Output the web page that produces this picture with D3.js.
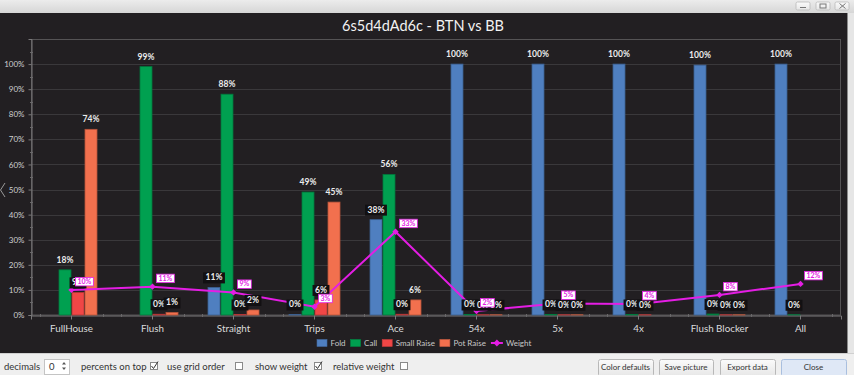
<!DOCTYPE html>
<html><head><meta charset="utf-8">
<script src="https://cdn.jsdelivr.net/npm/d3@7"></script>
<style>
html,body{margin:0;padding:0;background:#f0f0f0;overflow:hidden}
svg{display:block}
</style></head><body>
<svg id="c" width="854" height="375"></svg>
<script>
const title = "6s5d4dAd6c - BTN vs BB";
const categories = ["FullHouse","Flush","Straight","Trips","Ace","54x","5x","4x","Flush Blocker","All"];
const seriesNames = ["Fold","Call","Small Raise","Pot Raise"];
const fold       = [0, 0, 11, 0.2, 38, 100, 100, 100, 99.6, 100];
const call       = [18, 99, 88, 49, 56, 0.2, 0.2, 0.2, 0.4, 0.1];
const smallRaise = [9, 0.3, 0.2, 6, 0.3, 0.1, 0.1, 0.1, 0.1, 0];
const potRaise   = [74, 1, 2, 45, 6, 0.1, 0.1, 0, 0.1, 0];
const weight     = [10, 11.3, 9, 3.3, 33.2, 1.6, 4.6, 4.4, 8, 12.4];
const yTicks = [0,10,20,30,40,50,60,70,80,90,100];
const seriesColors = ["#4f7fc0","#00a050","#f04646","#f2704e"];
const weightColor = "#e41de4";
const controlsLeft = [["decimals",4],["percents on top",81],["use grid order",167],["show weight",255],["relative weight",333]];
const checkboxes = [[150,true],[235,false],[314,true],[400,false]];
const buttons = [["Color defaults",598,55],["Save picture",659,54],["Export data",720,55],["Close",781,65]];

const series = [fold, call, smallRaise, potRaise];
const svg = d3.select("#c");
const FONT = "Lato, 'Open Sans', sans-serif";

// window chrome
const defs = svg.append("defs");
const g1 = defs.append("linearGradient").attr("id","topg").attr("x1",0).attr("x2",0).attr("y1",0).attr("y2",1);
g1.append("stop").attr("offset","0").attr("stop-color","#ececec");
g1.append("stop").attr("offset","1").attr("stop-color","#d6d6d6");
const g2 = defs.append("linearGradient").attr("id","btng").attr("x1",0).attr("x2",0).attr("y1",0).attr("y2",1);
g2.append("stop").attr("offset","0").attr("stop-color","#fbfbfb");
g2.append("stop").attr("offset","1").attr("stop-color","#e6e6e6");

svg.append("rect").attr("x",0).attr("y",0).attr("width",854).attr("height",13).attr("fill","url(#topg)");
[796,816,835].forEach(bx=>{
  svg.append("rect").attr("x",bx).attr("y",2).attr("width",14).attr("height",8).attr("rx",1.5)
    .attr("fill","url(#btng)").attr("stroke","#b9b9b9").attr("stroke-width",0.8);
});
svg.append("line").attr("x1",800).attr("x2",806).attr("y1",7.5).attr("y2",7.5).attr("stroke","#777");
svg.append("rect").attr("x",820).attr("y",4).attr("width",6).attr("height",4).attr("fill","none").attr("stroke","#777");
svg.append("path").attr("d","M839.5,3.5L845.5,8.5M845.5,3.5L839.5,8.5").attr("stroke","#777");

svg.append("rect").attr("x",0).attr("y",13).attr("width",848).attr("height",340).attr("fill","#221f22");
svg.append("rect").attr("x",848).attr("y",13).attr("width",6).attr("height",340).attr("fill","#e6e6e6");
svg.append("line").attr("x1",847.5).attr("x2",847.5).attr("y1",13).attr("y2",353).attr("stroke","#8a8a8a");
svg.append("path").attr("d","M5,183L0.5,190L5,197").attr("fill","none").attr("stroke","#9a9a9a").attr("stroke-width",1);

// title
svg.append("text").attr("x",423).attr("y",31).attr("text-anchor","middle")
  .attr("font-family",FONT).attr("font-size",14.5).attr("fill","#f2f2f2").text(title);

// scales
const pLeft = 31, pRight = 841, pTop = 39, pBottom = 315;
const x = d3.scaleBand().domain(categories).range([pLeft,pRight]).padding(0);
const y = d3.scaleLinear().domain([0,110]).range([pBottom,pTop]);
const xs = d3.scaleBand().domain(seriesNames).range([-26,26]).padding(0);

// grid
const grid = svg.append("g");
grid.selectAll("line").data(yTicks.filter(d=>d>0)).join("line")
  .attr("x1",pLeft).attr("x2",pRight).attr("y1",d=>Math.round(y(d))+0.5).attr("y2",d=>Math.round(y(d))+0.5)
  .attr("stroke","#3a383b").attr("stroke-width",1);
svg.append("rect").attr("x",pLeft+0.5).attr("y",39.5).attr("width",pRight-pLeft-1).attr("height",pBottom-39.5)
  .attr("fill","none").attr("stroke","#555355");

// y axis
const yAxis = d3.axisLeft(y).tickValues(yTicks).tickFormat(d=>d+"%").tickSize(3).tickPadding(4);
const ya = svg.append("g").attr("transform",`translate(${pLeft+0.5},0)`).call(yAxis);
ya.select(".domain").attr("stroke","#7a787a");
ya.selectAll(".tick line").attr("stroke","#7a787a");
ya.selectAll("text").attr("fill","#cfcfcf").attr("font-family",FONT).attr("font-size",8).attr("x",-7);
const yMinor = d3.range(5,110,10);
svg.append("g").selectAll("line").data(yMinor).join("line")
  .attr("x1",pLeft-1).attr("x2",pLeft+2).attr("y1",d=>Math.round(y(d))+0.5).attr("y2",d=>Math.round(y(d))+0.5)
  .attr("stroke","#6a686a");

// x axis
const xAxis = d3.axisBottom(x).tickSize(4).tickPadding(4);
const xa = svg.append("g").attr("transform",`translate(0,${pBottom+0.5})`).call(xAxis);
xa.select(".domain").attr("stroke","#7a787a");
xa.selectAll(".tick line").attr("stroke","#7a787a");
xa.selectAll("text").attr("fill","#dcdcdc").attr("font-family",FONT).attr("font-size",9.8).attr("dy","0.9em");
const xMinor = [];
categories.forEach(c=>{ xMinor.push(x(c)+9, x(c)+x.bandwidth()-9); });
svg.append("g").selectAll("line").data(xMinor).join("line")
  .attr("x1",d=>Math.round(d)+0.5).attr("x2",d=>Math.round(d)+0.5).attr("y1",pBottom-1).attr("y2",pBottom+2)
  .attr("stroke","#6a686a");

// bars
const barData = [];
categories.forEach((c,i)=>{
  seriesNames.forEach((s,j)=>{
    barData.push({c, s, j, v: series[j][i]});
  });
});
const cx = d => x(d.c) + x.bandwidth()/2;
const shown = barData.filter(d=>d.v>0);
shown.forEach(d=>{
  d.bx = cx(d)+xs(d.s)+0.5; d.bw = xs.bandwidth()-1; d.by = y(d.v);
});
svg.append("g").selectAll("rect").data(shown).join("rect")
  .attr("x",d=>d.bx)
  .attr("y",d=>d.by)
  .attr("width",d=>d.bw)
  .attr("height",d=>pBottom - d.by)
  .attr("fill",d=>seriesColors[d.j])
  .attr("stroke",d=>d3.color(seriesColors[d.j]).darker(0.8))
  .attr("stroke-width",0.8);

// weight line
const wpts = categories.map((c,i)=>[x(c)+x.bandwidth()/2, y(weight[i]), weight[i]]);
svg.append("path").datum(wpts).attr("d",d3.line().x(d=>d[0]).y(d=>d[1]))
  .attr("fill","none").attr("stroke",weightColor).attr("stroke-width",2);
svg.append("g").selectAll("path").data(wpts).join("path")
  .attr("transform",d=>`translate(${d[0]},${d[1]})`)
  .attr("d",d3.symbol(d3.symbolDiamond2,26))
  .attr("fill",weightColor);

// value labels (background box only where a label collides with another mark)
const fmt = v => d3.format(".0f")(v) + "%";
const vl = svg.append("g");
const labs = shown.map(d=>{
  const lx = d.bx + d.bw/2;
  const ly = d.by - 7;
  const gg = vl.append("g");
  const r = gg.append("rect").attr("fill","#121012");
  const t = gg.append("text").attr("x",lx).attr("y",ly).attr("text-anchor","middle")
    .attr("font-family",FONT).attr("font-weight",700).attr("font-size",8.5).attr("fill","#ececec").text(fmt(d.v));
  const w = t.node().getComputedTextLength();
  return {d, r, lx, ly, w, x0: lx-w/2-1.5, x1: lx+w/2+1.5, y0: ly-8, y1: ly+2};
});
const hit = (a,b)=> a.x0 < b.x1 && b.x0 < a.x1 && a.y0 < b.y1 && b.y0 < a.y1;
labs.forEach(L=>{
  let col = false;
  labs.forEach(M=>{ if(M!==L && hit(L,M)) col = true; });
  shown.forEach(b=>{ if(b!==L.d && hit(L,{x0:b.bx,x1:b.bx+b.bw,y0:b.by,y1:pBottom})) col = true; });
  wpts.forEach(p=>{ if(hit(L,{x0:p[0]-3,x1:p[0]+24,y0:p[1]-13,y1:p[1]+3})) col = true; });
  if(col) L.r.attr("x",L.lx-L.w/2-2.5).attr("y",L.ly-8).attr("width",L.w+5).attr("height",11);
  else L.r.remove();
});

// weight labels
const wl = svg.append("g");
wpts.forEach(p=>{
  const gg = wl.append("g");
  const r = gg.append("rect").attr("fill","#ffffff").attr("stroke",weightColor).attr("stroke-width",0.8);
  const t = gg.append("text").attr("x",p[0]+6).attr("y",p[1]-6).attr("font-family",FONT).attr("font-weight",700)
    .attr("font-size",7).attr("fill",weightColor).text(fmt(p[2]));
  const w = t.node().getComputedTextLength();
  r.attr("x",p[0]+4).attr("y",p[1]-12.5).attr("width",w+4).attr("height",8.5);
});

// legend
const lg = svg.append("g");
let lgx = 317;
const lgy = 343;
seriesNames.forEach((s,j)=>{
  lg.append("rect").attr("x",lgx).attr("y",lgy-3.5).attr("width",10).attr("height",7).attr("fill",seriesColors[j])
    .attr("stroke",d3.color(seriesColors[j]).darker(0.5)).attr("stroke-width",0.6);
  const t = lg.append("text").attr("x",lgx+13.5).attr("y",lgy+3).attr("font-family",FONT).attr("font-size",8)
    .attr("fill","#c8c8c8").text(s);
  lgx += 13.5 + t.node().getComputedTextLength() + 5;
});
lg.append("line").attr("x1",lgx).attr("x2",lgx+12).attr("y1",lgy).attr("y2",lgy).attr("stroke",weightColor).attr("stroke-width",2);
lg.append("path").attr("transform",`translate(${lgx+6},${lgy})`).attr("d",d3.symbol(d3.symbolDiamond2,30)).attr("fill",weightColor);
lg.append("text").attr("x",lgx+15).attr("y",lgy+3).attr("font-family",FONT).attr("font-size",8).attr("fill","#c8c8c8").text("Weight");

// controls bar
svg.append("rect").attr("x",0).attr("y",353).attr("width",854).attr("height",22).attr("fill","#efefef");
svg.append("line").attr("x1",0).attr("x2",854).attr("y1",353.5).attr("y2",353.5).attr("stroke","#d0d0d0");
const cy = 370;
controlsLeft.forEach(([s,px])=>{
  svg.append("text").attr("x",px).attr("y",cy).attr("font-family",FONT).attr("font-size",9.5).attr("fill","#333").text(s);
});
svg.append("rect").attr("x",44.5).attr("y",359.5).attr("width",25).attr("height",15).attr("fill","#fff").attr("stroke","#c4c4c4");
svg.append("text").attr("x",49).attr("y",cy).attr("font-family",FONT).attr("font-size",9.5).attr("fill","#333").text("0");
svg.append("path").attr("d","M62,364.5L64,362L66,364.5Z M62,367.5L64,370L66,367.5Z").attr("fill","#555");
checkboxes.forEach(([px,on])=>{
  svg.append("rect").attr("x",px+0.5).attr("y",362.5).attr("width",7).attr("height",7).attr("fill","#fff").attr("stroke","#8a8a8a");
  if(on) svg.append("path").attr("d",`M${px+1.5},${366}L${px+3.5},${368.5}L${px+8},${361.5}`).attr("fill","none").attr("stroke","#333").attr("stroke-width",1);
});
buttons.forEach(([s,bx,bw],i)=>{
  svg.append("rect").attr("x",bx+0.5).attr("y",359.5).attr("width",bw).attr("height",17).attr("rx",2)
    .attr("fill", i===3 ? "#dfe8f6" : "url(#btng)").attr("stroke", i===3 ? "#a9bfdf" : "#b8b8b8");
  svg.append("text").attr("x",bx+bw/2).attr("y",370).attr("text-anchor","middle").attr("font-family",FONT)
    .attr("font-size",8).attr("fill","#333").text(s);
});
</script>
</body></html>
